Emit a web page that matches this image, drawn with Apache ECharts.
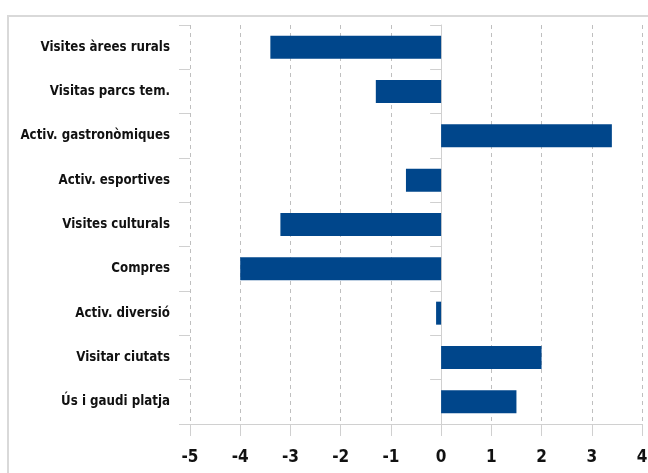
<!DOCTYPE html>
<html>
<head>
<meta charset="utf-8">
<script src="https://cdn.jsdelivr.net/npm/echarts@6/dist/echarts.min.js"></script>
<style>
html,body{margin:0;padding:0;background:#fff;}
#chart{width:648px;height:473px;}
</style>
</head>
<body>
<div id="chart"></div>
<script>
const categories = ["Visites àrees rurals", "Visitas parcs tem.", "Activ. gastronòmiques", "Activ. esportives", "Visites culturals", "Compres", "Activ. diversió", "Visitar ciutats", "Ús i gaudi platja"];
const values = [-3.4, -1.3, 3.4, -0.7, -3.2, -4.0, -0.1, 2.0, 1.5];
const xTicks = { min: -5, max: 4, interval: 1 };

const FONT = '"DejaVu Sans Condensed", "Liberation Sans Narrow", "DejaVu Sans", sans-serif';
const chart = echarts.init(document.getElementById('chart'), null, { renderer: 'canvas' });
chart.setOption({
  animation: false,
  backgroundColor: '#fff',
  graphic: [{
    type: 'rect', silent: true, z: -10,
    shape: { x: 8, y: 16, width: 720, height: 540 },
    style: { fill: 'none', stroke: '#d9d9d9', lineWidth: 2 }
  }],
  grid: { left: 190, right: 6, top: 25, bottom: 49, containLabel: false, outerBoundsMode: 'none' },
  xAxis: {
    type: 'value', min: xTicks.min, max: xTicks.max, interval: xTicks.interval,
    axisLine: { show: true, onZero: false, lineStyle: { color: '#d0d0d0', width: 1 } },
    axisTick: { show: true, length: 12, lineStyle: { color: '#d0d0d0' } },
    axisLabel: { color: '#111', fontFamily: FONT, fontWeight: 'bold', fontSize: 17, margin: 25 },
    splitLine: { show: true, lineStyle: { color: '#bfbfbf', type: [4, 4], width: 1 } }
  },
  yAxis: [{
    type: 'category', data: categories, inverse: true, position: 'left',
    axisLine: { show: false, onZero: false },
    axisTick: { show: true, length: 11, lineStyle: { color: '#d0d0d0' } },
    axisLabel: { color: '#111', fontFamily: FONT, fontWeight: 'bold', fontSize: 13.2, margin: 20 },
    splitLine: { show: false }
  }, {
    type: 'category', data: categories, inverse: true, position: 'left',
    axisLine: { show: true, onZero: true, lineStyle: { color: '#d0d0d0', width: 1 } },
    axisTick: { show: true, length: 11, lineStyle: { color: '#d0d0d0' } },
    axisLabel: { show: false },
    splitLine: { show: false }
  }],
  series: [{
    type: 'bar', data: values, yAxisIndex: 0, barWidth: 23,
    itemStyle: { color: '#00468b' }, z: 5
  }]
});
</script>
</body>
</html>
